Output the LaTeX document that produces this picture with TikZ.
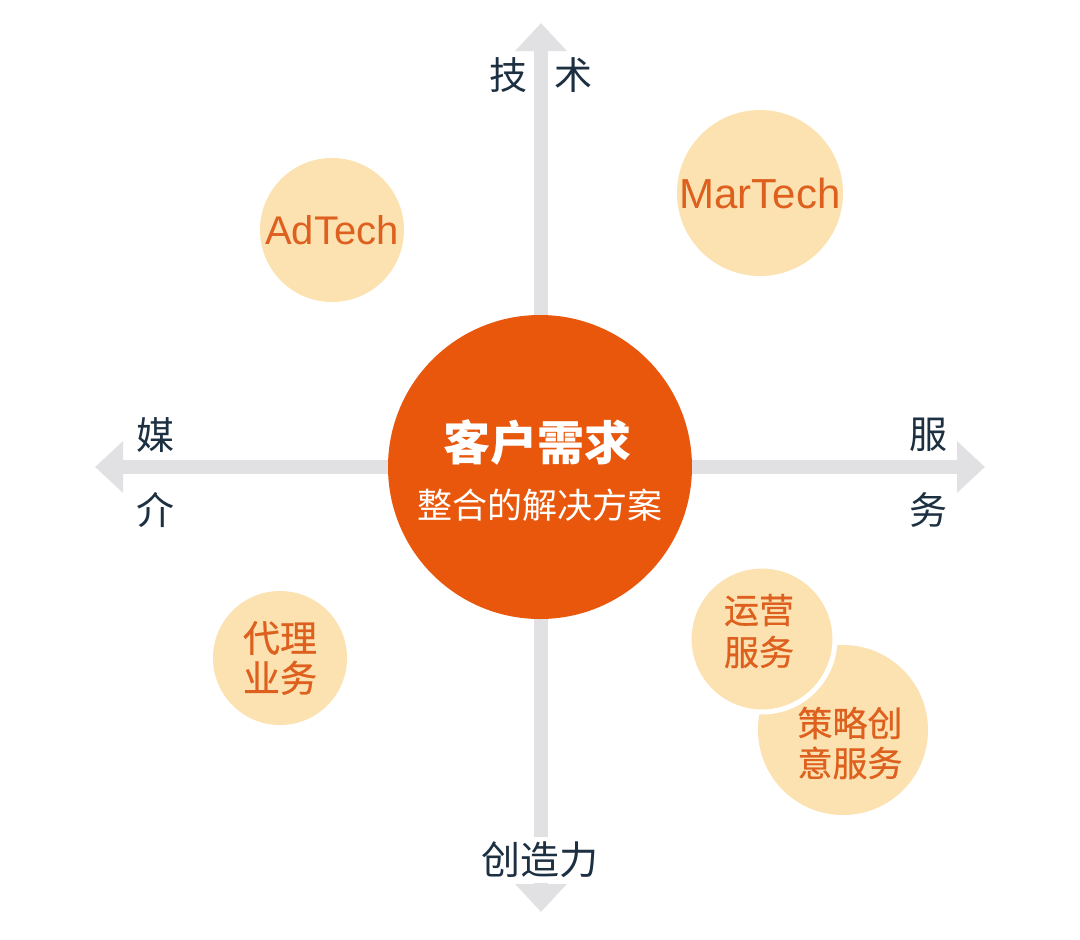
\documentclass[tikz,border=0pt]{standalone}
\usepackage{fontspec}
\setmainfont{Liberation Sans}
\newfontfamily\cjk{Noto Sans CJK SC}
\newfontfamily\cjkm[FakeBold=0.6]{Noto Sans CJK SC}
\usetikzlibrary{arrows.meta}
\definecolor{axisgrey}{RGB}{225,225,228}
\definecolor{coreorange}{RGB}{232,87,12}
\definecolor{peach}{RGB}{252,226,177}
\definecolor{txtorange}{RGB}{222,96,30}
\definecolor{navy}{RGB}{28,48,66}
\tikzset{
  axisline/.style={draw=axisgrey,line width=14pt,-{Triangle[length=28pt,width=50pt]}},
  axislabel/.style={text=navy,font=\cjk\fontsize{38}{38}\selectfont,inner sep=2pt},
  bubble/.style={circle,fill=peach,text=txtorange,align=center,inner sep=0pt},
  cjkbubble/.style={bubble,font=\cjkm\fontsize{36}{40}\selectfont},
  bubbletext/.style={text=txtorange,align=center,inner sep=0pt},
  latbubble/.style={bubble,font=\fontsize{40}{40}\selectfont}
}
\begin{document}
\begin{tikzpicture}[x=1pt,y=-1pt]
\useasboundingbox[fill=white] (0,0) rectangle (1080,940);
\coordinate (o) at (541,467);
\coordinate (tN) at (541,23);
\coordinate (tS) at (541,912);
\coordinate (tW) at (95,467);
\coordinate (tE) at (985,467);
\draw[axisline] (o) -- (tN);
\draw[axisline] (o) -- (tS);
\draw[axisline] (o) -- (tW);
\draw[axisline] (o) -- (tE);

\node[circle,fill=coreorange,minimum size=304pt,inner sep=0pt] (core) at (540,467) {};
\node[text=white,font=\cjk\bfseries\fontsize{47}{47}\selectfont] (need) at (537,443) {客户需求};
\node[text=white,font=\cjk\fontsize{35}{35}\selectfont] (sol) at (540,505) {整合的解决方案};

\node[latbubble,minimum size=144pt] (ad) at (332,230) {AdTech};
\node[latbubble,minimum size=166pt,font=\fontsize{42}{42}\selectfont] (mar) at (760,193) {MarTech};
\node[cjkbubble,minimum size=134pt,font=\cjkm\fontsize{37}{40}\selectfont] (agency) at (280,658) {代理\\业务};
\node[bubble,minimum size=170pt] (strat) at (843,730) {};
\node[bubble,minimum size=146pt,draw=white,line width=5pt] (ops) at (762,639) {};
\node[bubbletext,font=\cjkm\fontsize{35}{42}\selectfont] (opst) at (759,631) {运营\\服务};
\node[bubbletext,font=\cjkm\fontsize{35}{40}\selectfont] (stratt) at (850,743) {策略创\\意服务};

\node[axislabel] (ji) at (508,75) {技};
\node[axislabel] (shu) at (573,75) {术};
\node[axislabel] (mei) at (155,435) {媒};
\node[axislabel] (jie) at (155,510) {介};
\node[axislabel] (fu) at (928,435) {服};
\node[axislabel] (wu) at (928,510) {务};
\node[axislabel,fill=white,inner sep=5pt,font=\cjk\fontsize{39}{39}\selectfont] (cz) at (540,860) {创造力};
\end{tikzpicture}
\end{document}
